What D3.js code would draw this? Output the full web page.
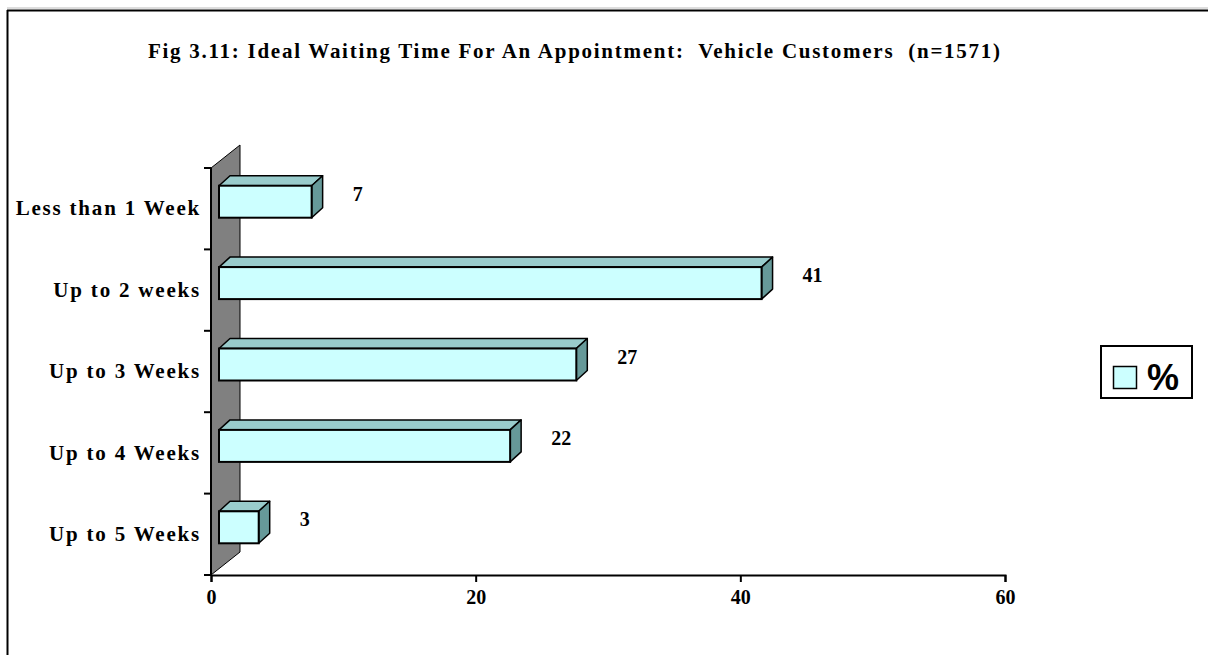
<!DOCTYPE html>
<html>
<head>
<meta charset="utf-8">
<script src="https://cdn.jsdelivr.net/npm/d3@7"></script>
<style>
  html, body { margin: 0; padding: 0; background: #fff; }
  svg { display: block; }
</style>
</head>
<body>
<svg id="chart" width="1208" height="655"></svg>
<script>
const categories = ["Less than 1 Week", "Up to 2 weeks", "Up to 3 Weeks", "Up to 4 Weeks", "Up to 5 Weeks"];
const values = [7, 41, 27, 22, 3];
const xTicks = [0, 20, 40, 60];
const seriesName = "%";
const titleText = "Fig 3.11: Ideal Waiting Time For An Appointment:  Vehicle Customers  (n=1571)";

const svg = d3.select("#chart");
const serif = "'Liberation Serif', 'Times New Roman', serif";

// frame
svg.append("line").attr("x1", 7).attr("y1", 8).attr("x2", 1208).attr("y2", 8).attr("stroke", "#bbb").attr("stroke-width", 1);
svg.append("line").attr("x1", 7).attr("y1", 10.5).attr("x2", 1208).attr("y2", 10.5).attr("stroke", "#000").attr("stroke-width", 2);
svg.append("line").attr("x1", 7.5).attr("y1", 10).attr("x2", 7.5).attr("y2", 655).attr("stroke", "#000").attr("stroke-width", 2);

// title
svg.append("text")
  .attr("x", 148).attr("y", 58)
  .attr("font-family", serif).attr("font-weight", "bold").attr("font-size", 21)
  .attr("textLength", 852).attr("lengthAdjust", "spacing")
  .style("white-space", "pre")
  .text(titleText);

const x = d3.scaleLinear().domain([0, 60]).range([211, 1005]);
const y = d3.scaleBand().domain(categories).range([168, 575]).paddingInner(0).paddingOuter(0);

const wallD = [29, -23];
const frontD = [8, -7];
const barD = [11, -10];
const barH = 32;

// wall
const x0 = x(0), yTop = y.range()[0], yBot = y.range()[1];
svg.append("path")
  .attr("d", `M${x0},${yTop} L${x0 + wallD[0]},${yTop + wallD[1]} L${x0 + wallD[0]},${yBot + wallD[1]} L${x0},${yBot} Z`)
  .attr("fill", "#808080").attr("stroke", "#000").attr("stroke-width", 1);
svg.append("line").attr("x1", x0).attr("y1", yTop).attr("x2", x0).attr("y2", yBot)
  .attr("stroke", "#000").attr("stroke-width", 2);

// x axis
const xAxis = svg.append("g").attr("transform", `translate(0,${yBot})`)
  .call(d3.axisBottom(x).tickValues(xTicks).tickSize(7).tickPadding(8));
xAxis.select(".domain").attr("stroke", "#000").attr("stroke-width", 2);
xAxis.selectAll(".tick line").attr("stroke", "#000").attr("stroke-width", 2);
xAxis.selectAll("text").attr("font-family", serif).attr("font-weight", "bold").attr("font-size", 20).attr("fill", "#000");

// y axis labels
const yAxis = svg.append("g").attr("transform", `translate(${x0},0)`)
  .call(d3.axisLeft(y).tickSize(0).tickPadding(10));
yAxis.select(".domain").remove();
yAxis.selectAll("text").attr("font-family", serif).attr("font-weight", "bold").attr("font-size", 21)
  .attr("letter-spacing", 1.8).attr("fill", "#000");
// boundary ticks
const bounds = categories.map(c => y(c)).concat([yBot]);
svg.selectAll(".btick").data(bounds).enter().append("line")
  .attr("x1", x0 - 7).attr("x2", x0).attr("y1", d => d).attr("y2", d => d)
  .attr("stroke", "#000").attr("stroke-width", 2);

// bars
const bars = svg.selectAll(".bar").data(categories.map((c, i) => ({c, v: values[i]}))).enter().append("g");
bars.each(function(d) {
  const g = d3.select(this);
  const fx0 = x(0) + frontD[0];
  const fx1 = x(d.v) + frontD[0];
  const fy0 = y(d.c) + y.bandwidth() / 2 + frontD[1] - barH / 2;
  const fy1 = fy0 + barH;
  g.append("path")
    .attr("d", `M${fx0},${fy0} L${fx0 + barD[0]},${fy0 + barD[1]} L${fx1 + barD[0]},${fy0 + barD[1]} L${fx1},${fy0} Z`)
    .attr("fill", "#99CCCC").attr("stroke", "#000").attr("stroke-width", 1.5).attr("stroke-linejoin", "round");
  g.append("path")
    .attr("d", `M${fx1},${fy0} L${fx1 + barD[0]},${fy0 + barD[1]} L${fx1 + barD[0]},${fy1 + barD[1]} L${fx1},${fy1} Z`)
    .attr("fill", "#669999").attr("stroke", "#000").attr("stroke-width", 1.5).attr("stroke-linejoin", "round");
  g.append("rect")
    .attr("x", fx0).attr("y", fy0).attr("width", fx1 - fx0).attr("height", barH)
    .attr("fill", "#CCFFFF").attr("stroke", "#000").attr("stroke-width", 2);
  g.append("text")
    .attr("x", fx1 + 41).attr("y", fy0 + barH / 2 - 1)
    .attr("font-family", serif).attr("font-weight", "bold").attr("font-size", 20)
    .attr("fill", "#000")
    .text(d.v);
});

// legend
const lg = svg.append("g");
lg.append("rect").attr("x", 1101).attr("y", 346).attr("width", 91).attr("height", 52)
  .attr("fill", "#fff").attr("stroke", "#000").attr("stroke-width", 2);
lg.append("rect").attr("x", 1113.5).attr("y", 366.5).attr("width", 23).attr("height", 22)
  .attr("fill", "#CCFFFF").attr("stroke", "#000").attr("stroke-width", 1.5);
lg.append("text").attr("x", 1147).attr("y", 390)
  .attr("font-family", "'Liberation Sans', Arial, sans-serif").attr("font-weight", "bold").attr("font-size", 36)
  .attr("fill", "#000").text(seriesName);
</script>
</body>
</html>
